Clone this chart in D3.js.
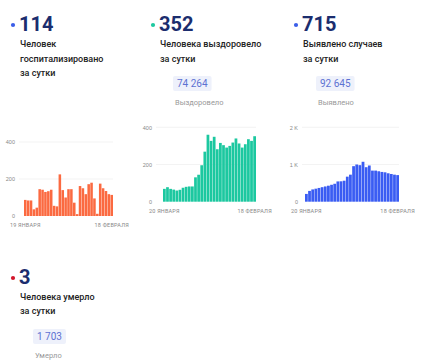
<!DOCTYPE html>
<html>
<head>
<meta charset="utf-8">
<script src="https://cdn.jsdelivr.net/npm/d3@7/dist/d3.min.js"></script>
<style>
  html, body { margin: 0; padding: 0; background: #fff; }
  svg { font-family: Roboto, "Noto Sans", sans-serif; display: block; }
  .big { font-size: 20px; font-weight: 700; fill: #1b2d6e; }
  .caption { font-size: 9px; font-weight: 500; fill: #222; }
  .total { font-size: 10px; fill: #5d72d2; }
  .total-label { font-size: 7.5px; fill: #999; }
  .tick-label { font-size: 5.5px; fill: #888; }
  .date-label { font-size: 5.5px; fill: #888; letter-spacing: 0.2px; }
</style>
</head>
<body>
<svg id="chart" width="430" height="363"></svg>
<script>
// headline numbers
const headlines = ['114', '352', '715', '3'];
const captions = [
    ['Человек', 'госпитализировано', 'за сутки'],
    ['Человека выздоровело', 'за сутки'],
    ['Выявлено случаев', 'за сутки'],
    ['Человека умерло', 'за сутки']
];
const totals = [null, '74 264', '92 645', '1 703'];
const totalLabels = [null, 'Выздоровело', 'Выявлено', 'Умерло'];

// daily series
const hospDays = d3.timeDay.range(new Date(2021, 0, 19), new Date(2021, 1, 19));
const hospValues = [87, 84, 84, 36, 45, 145, 142, 130, 134, 142, 55, 52, 225, 140, 100, 145,
    145, 72, 10, 162, 150, 118, 172, 180, 95, 12, 175, 150, 135, 118, 114];

const recDays = d3.timeDay.range(new Date(2021, 0, 20), new Date(2021, 1, 19));
const recValues = [69, 78, 69, 65, 60, 64, 75, 80, 82, 82, 131, 145, 196, 269, 360, 327,
    349, 282, 316, 304, 291, 300, 318, 340, 313, 291, 309, 336, 327, 352];

const caseDays = d3.timeDay.range(new Date(2021, 0, 20), new Date(2021, 1, 19));
const caseValues = [209, 290, 330, 350, 370, 390, 410, 430, 455, 482, 545, 548, 564, 673, 727,
    955, 1000, 982, 1073, 927, 973, 836, 836, 818, 800, 790, 764, 745, 727, 715];

const hospTicks = [0, 200, 400];
const recTicks = [0, 200, 400];
const caseTicks = [0, 1000, 2000];
const hospDateLabels = ['19 ЯНВАРЯ', '18 ФЕВРАЛЯ'];
const recDateLabels = ['20 ЯНВАРЯ', '18 ФЕВРАЛЯ'];
const caseDateLabels = ['20 ЯНВАРЯ', '18 ФЕВРАЛЯ'];

const svg = d3.select('#chart');

// card layout (positions only)
const cards = [
    { x: 20, y: 31, dot: '#3b5ee8', line: 14.5 },
    { x: 160, y: 31, dot: '#1ec9a0', line: 15 },
    { x: 303, y: 31, dot: '#3b5ee8', line: 15 },
    { x: 20, y: 284, dot: '#d3162b', line: 14 }
];

cards.forEach((c, i) => {
    const g = svg.append('g');
    g.append('circle')
        .attr('cx', c.x - 7)
        .attr('cy', c.y - 6)
        .attr('r', 2.1)
        .attr('fill', c.dot);
    g.append('text')
        .attr('class', 'big')
        .attr('x', c.x - 1)
        .attr('y', c.y)
        .text(headlines[i]);
    captions[i].forEach((t, j) => {
        g.append('text')
            .attr('class', 'caption')
            .attr('x', c.x)
            .attr('y', c.y + 16 + j * c.line)
            .text(t);
    });
    if (totals[i]) {
        const bx = c.x + 13, by = c.y + 45;
        const txt = g.append('text')
            .attr('class', 'total')
            .attr('x', bx + 4)
            .attr('y', by + 11)
            .text(totals[i]);
        const w = txt.node().getComputedTextLength();
        g.insert('rect', 'text.total')
            .attr('x', bx)
            .attr('y', by)
            .attr('width', w + 8)
            .attr('height', 15)
            .attr('rx', 2)
            .attr('fill', '#eef1fb');
        g.append('text')
            .attr('class', 'total-label')
            .attr('x', bx + 2)
            .attr('y', by + 28.5)
            .text(totalLabels[i]);
    }
});

function barChart(cfg) {
    const g = svg.append('g');

    const x = d3.scaleBand()
        .domain(cfg.days)
        .range([cfg.x0, cfg.x1])
        .paddingInner(0.12);

    const y = d3.scaleLinear()
        .domain([0, cfg.max])
        .range([cfg.base, cfg.top]);

    g.selectAll('line.grid')
        .data(cfg.ticks.filter(d => d > 0))
        .join('line')
        .attr('class', 'grid')
        .attr('x1', cfg.labelX + 4)
        .attr('x2', cfg.x1)
        .attr('y1', d => y(d))
        .attr('y2', d => y(d))
        .attr('stroke', '#eeeeee')
        .attr('stroke-width', 0.7);

    const yAxis = d3.axisLeft(y)
        .tickValues(cfg.ticks)
        .tickSize(0)
        .tickPadding(0)
        .tickFormat(cfg.format);

    g.append('g')
        .attr('transform', `translate(${cfg.labelX},0)`)
        .call(yAxis)
        .call(a => a.select('.domain').remove())
        .call(a => a.selectAll('text').attr('class', 'tick-label').attr('fill', null));

    g.selectAll('rect')
        .data(cfg.values)
        .join('rect')
        .attr('x', (d, i) => x(cfg.days[i]))
        .attr('y', d => y(d))
        .attr('width', x.bandwidth())
        .attr('height', d => cfg.base - y(d))
        .attr('fill', cfg.color);

    const first = cfg.days[0], last = cfg.days[cfg.days.length - 1];
    [first, last].forEach((d, i) => {
        g.append('text')
            .attr('class', 'date-label')
            .attr('x', x(d) + x.bandwidth() / 2)
            .attr('y', cfg.base + 11)
            .attr('text-anchor', 'middle')
            .text(cfg.dateLabels[i]);
    });
}

barChart({
    days: hospDays, values: hospValues, ticks: hospTicks, max: 400,
    dateLabels: hospDateLabels, color: '#fb6a41',
    x0: 24, x1: 113, base: 216, top: 142, labelX: 15,
    format: d => d
});

barChart({
    days: recDays, values: recValues, ticks: recTicks, max: 400,
    dateLabels: recDateLabels, color: '#1cc8a0',
    x0: 163, x1: 256, base: 201.7, top: 127.3, labelX: 152,
    format: d => d
});

barChart({
    days: caseDays, values: caseValues, ticks: caseTicks, max: 2000,
    dateLabels: caseDateLabels, color: '#3a5cf3',
    x0: 305, x1: 399, base: 201.7, top: 127.3, labelX: 298,
    format: d => d === 0 ? '0' : (d / 1000) + ' K'
});
</script>
</body>
</html>
